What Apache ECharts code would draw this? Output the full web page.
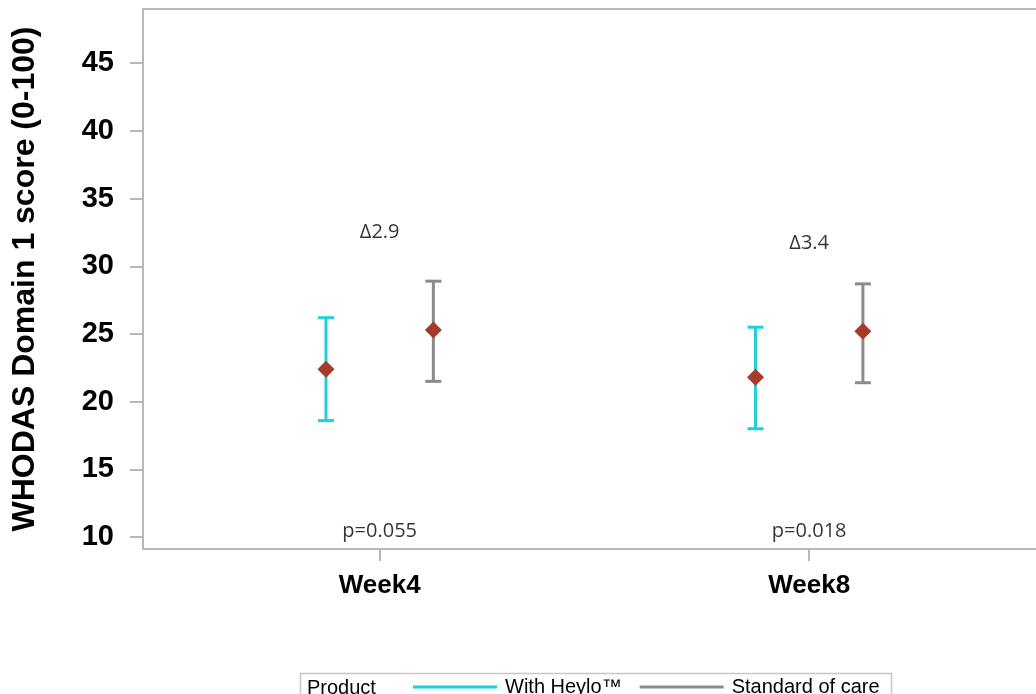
<!DOCTYPE html>
<html>
<head>
<meta charset="utf-8">
<script src="https://cdn.jsdelivr.net/npm/echarts@6/dist/echarts.min.js"></script>
<style>
  html, body { margin: 0; padding: 0; background: #fff; }
  #chart { width: 1036px; height: 694px; }
</style>
</head>
<body>
<div id="chart"></div>
<script>
// Visits and the mean WHODAS Domain 1 score with its interval, per group
const weeks = ['Week4', 'Week8'];
const heyloMean = [22.4, 21.8];
const heyloLower = [18.6, 18.0];
const heyloUpper = [26.2, 25.5];
const careMean = [25.3, 25.2];
const careLower = [21.5, 21.4];
const careUpper = [28.9, 28.7];
const deltaText = ['Δ2.9', 'Δ3.4'];
const deltaY = [32.5, 31.7];
const pText = ['p=0.055', 'p=0.018'];
const pY = [10.45, 10.45];
const yTicks = [10, 15, 20, 25, 30, 35, 40, 45];
const groupNames = ['With Heylo™', 'Standard of care'];

const chart = echarts.init(document.getElementById('chart'), null, { renderer: 'canvas' });

const GROUP_SHIFT = 0.125;   // side-by-side placement of the two groups at each visit
const CAP_HALF = 8;          // half width of the whisker caps, px

function rows(mean, lower, upper, shift) {
  return weeks.map((w, i) => [i + 1 + shift, mean[i], lower[i], upper[i]]);
}

function renderBar(color) {
  return function (params, api) {
    const x = api.value(0);
    const mid = api.coord([x, api.value(1)]);
    const lo = api.coord([x, api.value(2)]);
    const hi = api.coord([x, api.value(3)]);
    const line = { stroke: color, lineWidth: 3 };
    const r = 8.5;
    return {
      type: 'group',
      children: [
        { type: 'line', shape: { x1: lo[0], y1: lo[1], x2: hi[0], y2: hi[1] }, style: line },
        { type: 'line', shape: { x1: lo[0] - CAP_HALF, y1: lo[1], x2: lo[0] + CAP_HALF, y2: lo[1] }, style: line },
        { type: 'line', shape: { x1: hi[0] - CAP_HALF, y1: hi[1], x2: hi[0] + CAP_HALF, y2: hi[1] }, style: line },
        { type: 'polygon',
          shape: { points: [[mid[0], mid[1] - r], [mid[0] + r, mid[1]], [mid[0], mid[1] + r], [mid[0] - r, mid[1]]] },
          style: { fill: '#a63a2b' } }
      ]
    };
  };
}

const CYAN = '#1fd0db';
const GREY = '#8b8b8b';
const FRAME = '#b8b8b8';
const X_MIN = 0.449, X_MAX = 2.528;

chart.setOption({
  animation: false,
  backgroundColor: '#ffffff',
  grid: { left: 143, top: 9, right: 0, bottom: 145 },
  xAxis: [
    {
      type: 'value',
      min: X_MIN, max: X_MAX,
      splitLine: { show: false },
      axisLine: { show: true, lineStyle: { color: FRAME, width: 2 } },
      axisTick: { show: true, length: 12, lineStyle: { color: FRAME, width: 2 }, customValues: [1, 2] },
      axisLabel: {
        customValues: [1, 2],
        formatter: v => weeks[Math.round(v) - 1] || '',
        margin: 24,
        color: '#000', fontFamily: 'Liberation Sans, Arial, sans-serif', fontWeight: 'bold', fontSize: 26
      }
    },
    {
      // upper edge of the plot frame
      type: 'value', position: 'top',
      min: X_MIN, max: X_MAX,
      splitLine: { show: false },
      axisLine: { show: true, lineStyle: { color: FRAME, width: 2 } },
      axisTick: { show: false },
      axisLabel: { show: false }
    }
  ],
  yAxis: {
    type: 'value',
    min: 9.12, max: 49,
    name: 'WHODAS Domain 1 score (0-100)',
    nameLocation: 'middle',
    nameRotate: 90,
    nameGap: 102,
    nameTextStyle: { color: '#000', fontFamily: 'Liberation Sans, Arial, sans-serif', fontWeight: 'bold', fontSize: 32 },
    splitLine: { show: false },
    axisLine: { show: true, lineStyle: { color: FRAME, width: 2 } },
    axisTick: { show: true, length: 13, lineStyle: { color: FRAME, width: 2 }, customValues: yTicks },
    axisLabel: {
      customValues: yTicks,
      margin: 29,
      color: '#000', fontFamily: 'Liberation Sans, Arial, sans-serif', fontWeight: 'bold', fontSize: 29
    }
  },
  legend: {
    data: [
      { name: groupNames[0], itemStyle: { color: CYAN } },
      { name: groupNames[1], itemStyle: { color: GREY } }
    ],
    icon: 'rect',
    itemWidth: 84, itemHeight: 3,
    itemGap: 18,
    left: 413, top: 677,
    padding: 0,
    selectedMode: false,
    textStyle: { color: '#000', fontFamily: 'Liberation Sans, Arial, sans-serif', fontSize: 20, padding: [0, 0, 0, 3] }
  },
  graphic: [
    { type: 'rect', left: 298, top: 671, shape: { width: 591, height: 40 },
      style: { fill: 'none', stroke: '#c8c8c8', lineWidth: 1.5 } },
    { type: 'text', left: 307, top: 678,
      style: { text: 'Product', fill: '#000', font: '20px "Liberation Sans", Arial, sans-serif' } }
  ],
  series: [
    {
      name: groupNames[0], type: 'custom', itemStyle: { color: CYAN },
      renderItem: renderBar(CYAN),
      encode: { x: 0, y: [1, 2, 3] },
      data: rows(heyloMean, heyloLower, heyloUpper, -GROUP_SHIFT),
      z: 3
    },
    {
      name: groupNames[1], type: 'custom', itemStyle: { color: GREY },
      renderItem: renderBar(GREY),
      encode: { x: 0, y: [1, 2, 3] },
      data: rows(careMean, careLower, careUpper, GROUP_SHIFT),
      z: 3
    },
    {
      name: 'delta', type: 'scatter', symbolSize: 0, silent: true,
      data: weeks.map((w, i) => ({ value: [i + 1, deltaY[i]], label: { formatter: deltaText[i] } })),
      label: { show: true, position: 'inside', color: '#000',
        fontFamily: 'Open Sans, Noto Sans, sans-serif', fontSize: 20 }
    },
    {
      name: 'pvalue', type: 'scatter', symbolSize: 0, silent: true,
      data: weeks.map((w, i) => ({ value: [i + 1, pY[i]], label: { formatter: pText[i] } })),
      label: { show: true, position: 'inside', color: '#000',
        fontFamily: 'Open Sans, Noto Sans, sans-serif', fontSize: 20 }
    }
  ]
});
</script>
</body>
</html>
